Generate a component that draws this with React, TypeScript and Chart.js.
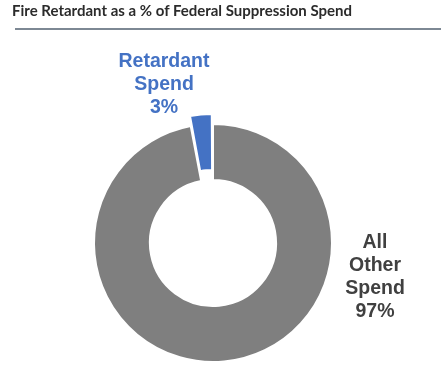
import React, { useEffect, useRef } from "react";
import { Chart, registerables } from "chart.js";

Chart.register(...registerables);

const title = "Fire Retardant as a % of Federal Suppression Spend";
const categories = ["All Other Spend", "Retardant Spend"];
const values = [97, 3];
const colors = ["#7f7f7f", "#4472c4"];
const offsets = [0, 22];
const labelLines = [["All", "Other", "Spend", "97%"], ["Retardant", "Spend", "3%"]];
const labelColors = ["#404040", "#4472c4"];

const labelPlugin = {
  id: "sliceLabels",
  afterDraw(chart: any) {
    const ctx = chart.ctx;
    const meta = chart.getDatasetMeta(0);
    const arc = meta.data[0];
    const cx = arc.x;
    const cy = arc.y;
    const r = arc.outerRadius;
    ctx.save();
    ctx.font = "bold 19.5px 'Liberation Sans', Arial, sans-serif";
    ctx.textAlign = "center";
    ctx.textBaseline = "middle";
    const lh = 23;
    // All other label: right of ring
    const l0 = labelLines[0];
    ctx.fillStyle = labelColors[0];
    l0.forEach((t, i) => ctx.fillText(t, cx + r + 43, cy + i * lh));
    // Retardant label: above-left
    const l1 = labelLines[1];
    ctx.fillStyle = labelColors[1];
    l1.forEach((t, i) => ctx.fillText(t, cx - 49, cy - 181.5 + i * lh));
    ctx.restore();
  },
};

export default function App() {
  const ref = useRef<HTMLCanvasElement>(null);
  useEffect(() => {
    if (!ref.current) return;
    const chart = new Chart(ref.current, {
      type: "doughnut",
      data: {
        labels: categories,
        datasets: [
          {
            data: values,
            backgroundColor: colors,
            borderColor: "#ffffff",
            borderWidth: 2,
            offset: offsets,
          },
        ],
      },
      options: {
        animation: false,
        responsive: false,
        radius: 119,
        cutout: "53%",
        layout: { padding: { top: 110, bottom: 10, left: 0, right: 16 } },
        plugins: { legend: { display: false }, tooltip: { enabled: false }, title: { display: false } },
      },
      plugins: [labelPlugin],
    });
    return () => chart.destroy();
  }, []);
  return (
    <div style={{ position: "absolute", left: 0, top: 0, width: 442, height: 386, background: "#fff" }}>
      <canvas ref={ref} width={442} height={386} style={{ position: "absolute", left: 0, top: 0 }} />
      <div
        style={{
          position: "absolute",
          left: 12,
          top: 1,
          font: "bold 15px Lato, 'Open Sans', sans-serif",
          color: "#2b2b2b",
          whiteSpace: "nowrap",
        }}
      >
        {title}
      </div>
      <div style={{ position: "absolute", left: 15, top: 28, width: 426, height: 2, background: "#7d8894" }} />
    </div>
  );
}
